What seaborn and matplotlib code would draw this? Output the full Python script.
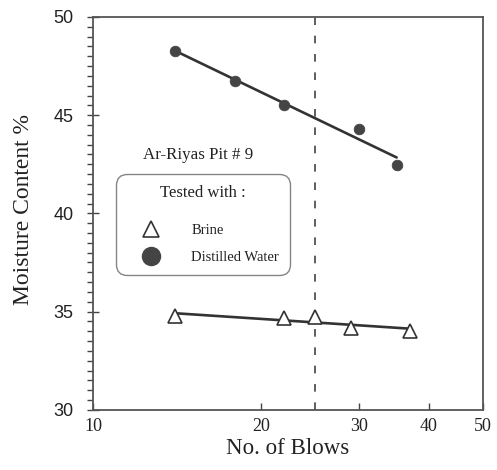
import matplotlib
matplotlib.use("Agg")
import matplotlib.pyplot as plt
from matplotlib.lines import Line2D
from matplotlib.ticker import FixedLocator, NullLocator, MultipleLocator, FixedFormatter
import seaborn as sns
import pandas as pd

sns.set_theme(style="ticks")
plt.rcParams["font.family"] = ["Liberation Serif", "DejaVu Serif"]

# ── Data ──────────────────────────────────────────────────────────────────────
water_blows = [14, 18, 22, 30, 35]
water_mc = [48.27, 46.76, 45.52, 44.30, 42.45]
brine_blows = [14, 22, 25, 29, 37]
brine_mc = [34.78, 34.68, 34.71, 34.19, 34.02]
x_ticks = [10, 20, 30, 40, 50]
x_ticklabels = ["10", "20", "30", "40", "50"]
y_ticks = [30, 35, 40, 45, 50]

water = pd.DataFrame({"blows": water_blows, "mc": water_mc})
brine = pd.DataFrame({"blows": brine_blows, "mc": brine_mc})

LINE = "#333333"
MARK = "#444444"

fig = plt.figure(figsize=(4.97, 4.70), dpi=100)
ax = fig.add_axes([0.187, 0.128, 0.785, 0.836])

# fitted lines (y ~ log x)
sns.regplot(data=water, x="blows", y="mc", logx=True, ci=None, scatter=False,
            line_kws={"color": LINE, "lw": 1.9}, ax=ax)
sns.regplot(data=brine, x="blows", y="mc", logx=True, ci=None, scatter=False,
            line_kws={"color": LINE, "lw": 1.9}, ax=ax)

# points
sns.scatterplot(data=water, x="blows", y="mc", marker="o", s=58,
                color=MARK, edgecolor=MARK, ax=ax, zorder=3)
ax.plot(brine["blows"], brine["mc"], ls="none", marker="^", ms=10,
        mfc="white", mec=LINE, mew=1.2, zorder=3)

# 25-blow reference
ax.axvline(25, color=LINE, lw=1.1, ls=(0, (5, 7)))

ax.set_xscale("log")
ax.set_xlim(10, 50)
ax.set_ylim(30, 50)
ax.xaxis.set_major_locator(FixedLocator(x_ticks))
ax.xaxis.set_major_formatter(FixedFormatter(x_ticklabels))
ax.xaxis.set_minor_locator(NullLocator())
ax.set_yticks(y_ticks)
ax.yaxis.set_minor_locator(MultipleLocator(0.5))

for s in ax.spines.values():
    s.set_color("#555555")
    s.set_linewidth(1.3)

ax.tick_params(axis="x", direction="in", length=5, width=1, colors="#444444",
               labelsize=13, labelcolor="#222222", pad=6)
ax.tick_params(axis="y", which="major", direction="inout", length=8, width=1,
               colors="#444444", labelsize=13, labelcolor="#222222", pad=10)
ax.tick_params(axis="y", which="minor", direction="out", length=4, width=1,
               colors="#444444")
for lab in ax.get_yticklabels():
    lab.set_family(["Liberation Sans", "DejaVu Sans"])

ax.set_xlabel("No. of Blows", fontsize=16.5, color="#222222", labelpad=2)
ax.set_ylabel("Moisture Content %", fontsize=17, color="#222222")
ax.yaxis.set_label_coords(-0.151, 0.51)

ax.text(0.269, 0.648, "Ar-Riyas Pit # 9", transform=ax.transAxes,
        ha="center", va="center", fontsize=12.2, color="#222222")

handles = [
    Line2D([], [], ls="none", marker="^", ms=12, mfc="white", mec=LINE, mew=1.2),
    Line2D([], [], ls="none", marker="o", ms=13, mfc=MARK, mec=MARK),
]
leg = ax.legend(handles, ["Brine", "Distilled Water"], title="Tested with :\n",
                loc="upper left", bbox_to_anchor=(0.058, 0.6005), borderaxespad=0,
                frameon=True, fancybox=True, fontsize=10.5, title_fontsize=12,
                handletextpad=1.05, labelspacing=0.95, borderpad=0.75,
                handlelength=3.4)
leg.get_title().set_linespacing(0.45)
leg.get_frame().set_boxstyle("round,pad=0,rounding_size=0.75")
leg.get_frame().set_edgecolor("#666666")
leg.get_frame().set_linewidth(1.0)
for t in leg.get_texts():
    t.set_color("#222222")
leg.get_title().set_color("#222222")

fig.savefig("out.png", dpi=100)
